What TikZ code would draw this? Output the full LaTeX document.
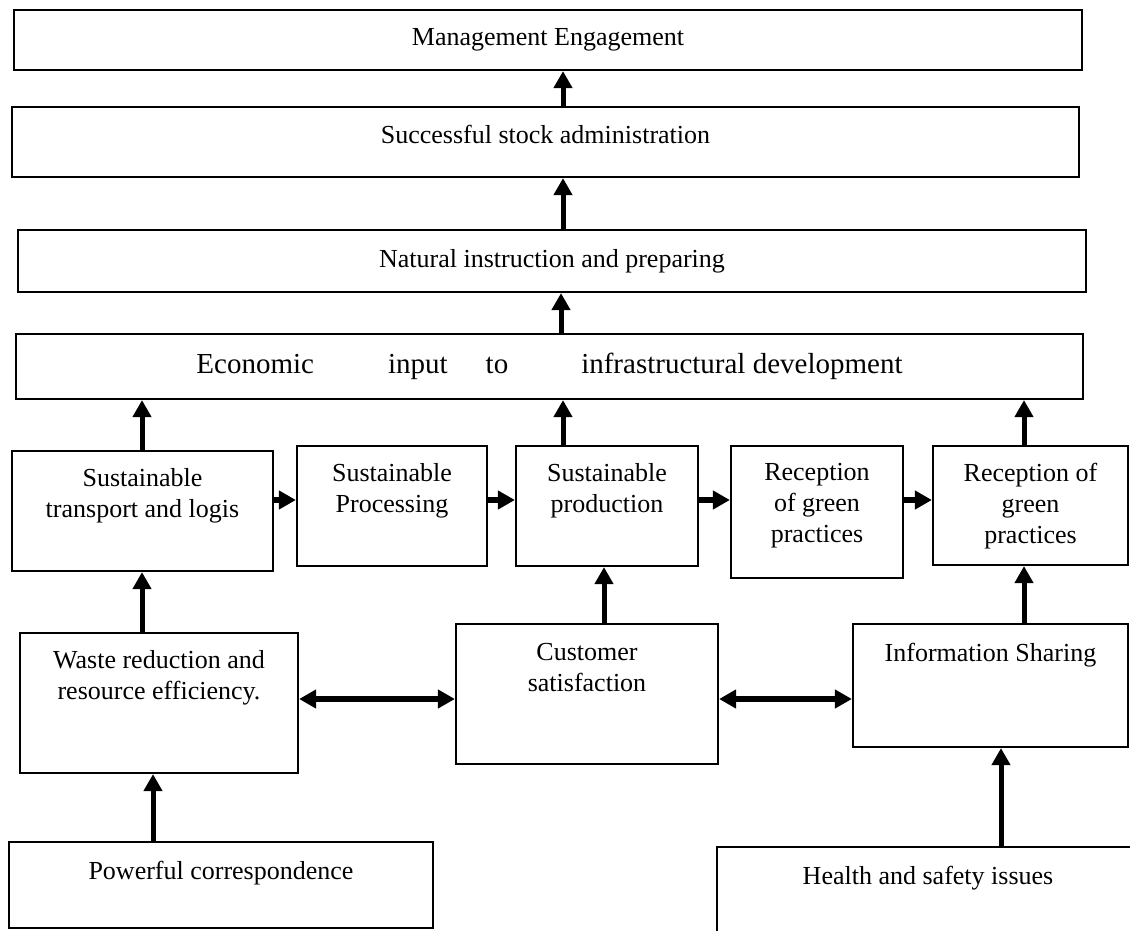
\documentclass[tikz,border=0pt]{standalone}
\usepackage{fontspec}
\setmainfont{Liberation Serif}
\usetikzlibrary{arrows.meta}
\begin{document}
\begin{tikzpicture}[x=1pt,y=-1pt,
  box/.style={draw, line width=2.2pt, rectangle, inner sep=0pt},
  txt/.style={inner sep=0pt, align=center, font=\fontsize{26}{31}\selectfont},
  bigtxt/.style={inner sep=0pt, font=\fontsize{29}{34}\selectfont},
  tip/.style={},
  arr/.style={line width=5pt, -{Triangle[length=17pt,width=18pt]}},
  harr/.style={line width=6.5pt, -{Triangle[length=17pt,width=18pt]}},
  darr/.style={line width=6.5pt, {Triangle[length=17pt,width=18pt]}-{Triangle[length=17pt,width=18pt]}}]
\useasboundingbox (0,0) rectangle (1130,931);
\clip (0,0) rectangle (1130,931);

% column / row helpers for connectors
\coordinate (cA) at (563,0);
\coordinate (cB) at (561,0);
\coordinate (cC) at (142,0);
\coordinate (cD) at (1024,0);
\coordinate (cE) at (604,0);
\coordinate (cF) at (153,0);
\coordinate (cG) at (1001,0);
\coordinate (rH) at (0,500);
\coordinate (rD) at (0,699);

% boxes
\node[box, minimum width=1068pt, minimum height=60pt]  (b1) at (548,40) {};
\node[box, minimum width=1067pt, minimum height=70pt]  (b2) at (545.5,142) {};
\node[box, minimum width=1068pt, minimum height=62pt]  (b3) at (552,261) {};
\node[box, minimum width=1067pt, minimum height=65pt]  (b4) at (549.5,366.5) {};
\node[box, minimum width=261pt, minimum height=120pt]  (t1) at (142.5,511) {};
\node[box, minimum width=190pt, minimum height=120pt]  (t2) at (392,506) {};
\node[box, minimum width=182pt, minimum height=120pt]  (t3) at (607,506) {};
\node[box, minimum width=172pt, minimum height=132pt]  (t4) at (817,512) {};
\node[box, minimum width=195pt, minimum height=119pt]  (t5) at (1030.5,505.5) {};
\node[box, minimum width=278pt, minimum height=140pt]  (m1) at (159,703) {};
\node[box, minimum width=262pt, minimum height=140pt]  (m2) at (587,694) {};
\node[box, minimum width=275pt, minimum height=123pt]  (m3) at (990.5,685.5) {};
\node[box, minimum width=424pt, minimum height=86pt]   (l1) at (221,885) {};
\node[box, minimum width=422pt, minimum height=98pt]   (l2) at (928,896) {};

% texts
\node[txt, anchor=base] (x1) at (548,46) {Management Engagement};
\node[txt, anchor=base] (x2) at (545.5,143.5) {Successful stock administration};
\node[txt, anchor=base] (x3) at (552,267) {Natural instruction and preparing};
\node[bigtxt, anchor=base] (x4) at (549.5,373) {Economic\hspace{74pt}input\hspace{38pt}to\hspace{73pt}infrastructural development};
\node[txt, anchor=north] (y1) at (142.5,468.2) {Sustainable\\transport and logis};
\node[txt, anchor=north] (y2) at (392,463.2) {Sustainable\\Processing};
\node[txt, anchor=north] (y3) at (607,463.2) {Sustainable\\production};
\node[txt, anchor=north] (y4) at (817,463.2) {Reception\\of green\\practices};
\node[txt, anchor=north] (y5) at (1030.5,463.2) {Reception of\\green\\practices};
\node[txt, anchor=north] (z1) at (159,650.7) {Waste reduction and\\resource efficiency.};
\node[txt, anchor=north] (z2) at (587,643.2) {Customer\\satisfaction};
\node[txt, anchor=base] (z3) at (990.5,661) {Information Sharing};
\node[txt, anchor=base] (w1) at (221,879) {Powerful correspondence};
\node[txt, anchor=base] (w2) at (928,884) {Health and safety issues};

% vertical arrows
\draw[arr] (b2.north -| cA) -- (b1.south -| cA);
\draw[arr] (b3.north -| cA) -- (b2.south -| cA);
\draw[arr] (b4.north -| cB) -- (b3.south -| cB);
\draw[arr] (t1.north -| cC) -- (b4.south -| cC);
\draw[arr] (t3.north -| cA) -- (b4.south -| cA);
\draw[arr] (t5.north -| cD) -- (b4.south -| cD);
\draw[arr] (m1.north -| cC) -- (t1.south -| cC);
\draw[arr] (m2.north -| cE) -- (t3.south -| cE);
\draw[arr] (m3.north -| cD) -- (t5.south -| cD);
\draw[arr] (l1.north -| cF) -- (m1.south -| cF);
\draw[arr] (l2.north -| cG) -- (m3.south -| cG);

% horizontal arrows
\draw[harr] (t1.east |- rH) -- (t2.west |- rH);
\draw[harr] (t2.east |- rH) -- (t3.west |- rH);
\draw[harr] (t3.east |- rH) -- (t4.west |- rH);
\draw[harr] (t4.east |- rH) -- (t5.west |- rH);

% double arrows
\draw[darr] (m1.east |- rD) -- (m2.west |- rD);
\draw[darr] (m2.east |- rD) -- (m3.west |- rD);
\end{tikzpicture}
\end{document}
